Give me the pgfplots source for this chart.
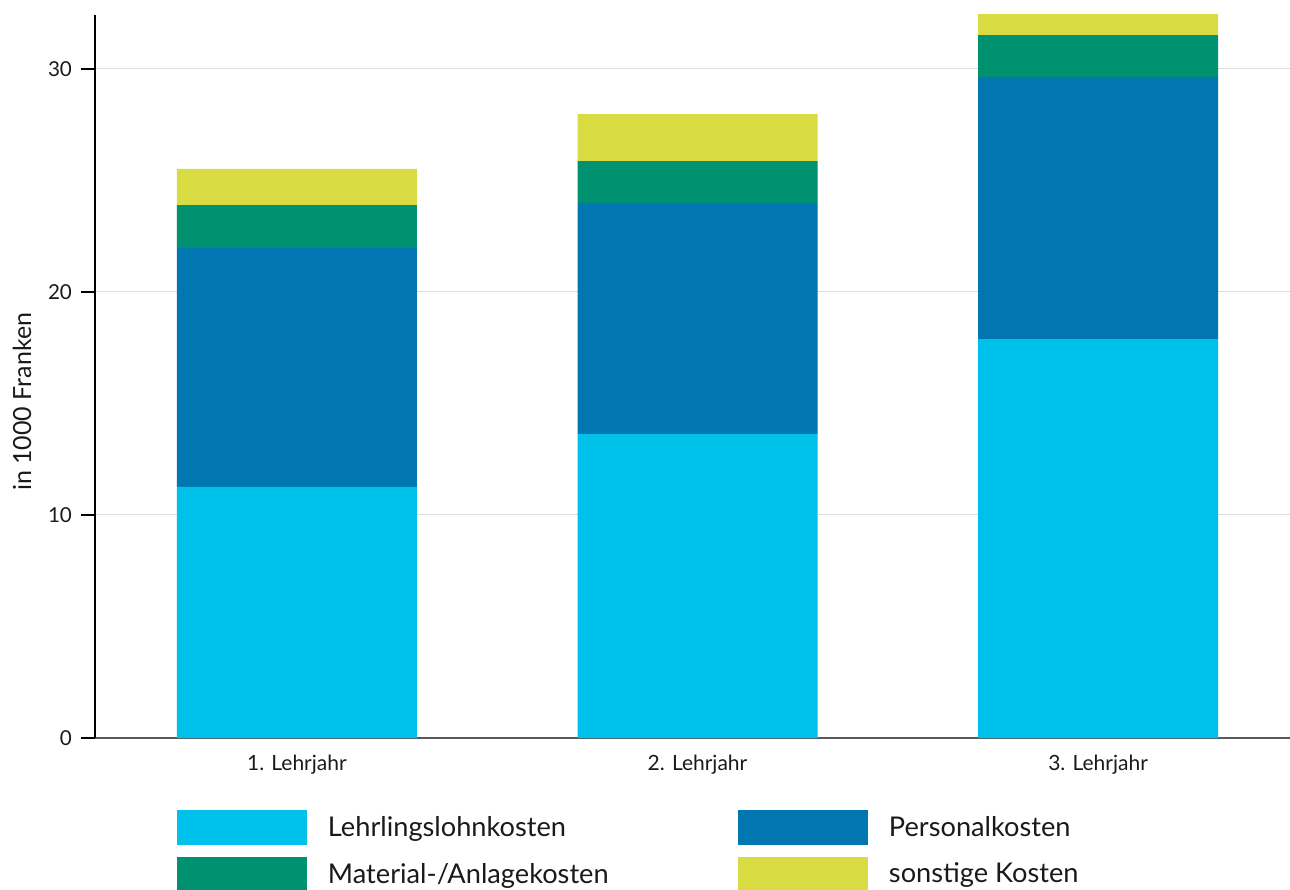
\documentclass[border=0pt]{standalone}
\usepackage{pgfplots}
\pgfplotsset{compat=1.18}
\usepackage{fontspec}
\setmainfont{Lato}
\usetikzlibrary{calc}
\definecolor{cLehr}{HTML}{00C1E9}
\definecolor{cPers}{HTML}{0077B0}
\definecolor{cMat}{HTML}{009170}
\definecolor{cSon}{HTML}{D8DC42}
\definecolor{cGrid}{HTML}{DDDDDD}
\definecolor{cTxt}{HTML}{1A1A1A}
\begin{document}
\begin{tikzpicture}
\begin{axis}[
  scale only axis,
  width=597.5pt, height=361.5pt,
  xmin=0.496, xmax=3.479,
  ymin=0, ymax=32.42,
  ybar stacked, bar width=120pt,
  axis x line=bottom, axis y line=left,
  axis line style={-},
  x axis line style={draw=black!65, line width=0.8pt},
  y axis line style={draw=black, line width=0.6pt},
  xtick={1,2,3},
  xticklabels={1. Lehrjahr, 2. Lehrjahr, 3. Lehrjahr},
  ytick={0,10,20,30},
  major x tick style={draw=none},
  ytick style={draw=black, line width=0.6pt},
  tick align=outside,
  major tick length=7pt,
  ymajorgrids, major grid style={cGrid, line width=0.5pt},
  xticklabel style={font=\fontsize{10.5}{12}\selectfont, text=cTxt, yshift=2pt},
  yticklabel style={font=\fontsize{10.3}{12}\selectfont, text=cTxt, xshift=-1pt},
  /pgf/number format/assume math mode=true,
  ylabel={in 1000 Franken},
  ylabel style={font=\fontsize{12.5}{14}\selectfont, text=cTxt, at={(rel axis cs:0,0.465)}, anchor=center, yshift=36.5pt},
  legend columns=2,
  legend style={draw=none, fill=none, inner sep=0pt, outer sep=0pt,
    at={(rel axis cs:0.0686,0)}, anchor=north west, yshift=-36pt,
    nodes={inner sep=0pt, font=\fontsize{13.6}{16}\selectfont, text=cTxt},
    row sep=6pt,
    /tikz/every odd column/.append style={column sep=10.5pt}},
  legend cell align=left,
  legend image code/.code={\fill[#1,draw=none] (0pt,-8.75pt) rectangle (65pt,8.75pt);},
  clip=true,
]
\addplot[fill=cLehr, draw=none] coordinates {(1,11.26) (2,13.63) (3,17.89)};
\addplot[fill=cPers, draw=none] coordinates {(1,10.71) (2,10.36) (3,11.75)};
\addplot[fill=cMat, draw=none] coordinates {(1,1.93) (2,1.88) (3,1.88)};
\addplot[fill=cSon, draw=none] coordinates {(1,1.62) (2,2.11) (3,1.0)};
\legend{\makebox[205pt][l]{Lehrlingslohnkosten}, Personalkosten, \makebox[205pt][l]{Material-/Anlagekosten}, sonstige Kosten}
\coordinate (O) at (rel axis cs:0,0);
\coordinate (T) at (rel axis cs:1,1);
\end{axis}
\pgfresetboundingbox
\path[use as bounding box] ($(O)+(-47.5pt,-75.5pt)$) rectangle ($(T)+(0pt,7.5pt)$);
\end{tikzpicture}
\end{document}
